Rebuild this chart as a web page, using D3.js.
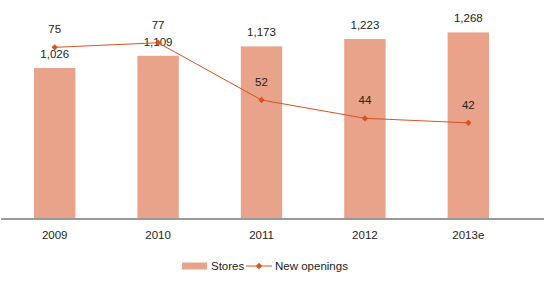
<!DOCTYPE html>
<html>
<head>
<meta charset="utf-8">
<script src="https://cdn.jsdelivr.net/npm/d3@7"></script>
<style>
  body { margin: 0; background: #fff; }
  text { font-family: "Liberation Sans", Arial, sans-serif; fill: #222; }
</style>
</head>
<body>
<svg width="544" height="281"></svg>
<script>
const years = ["2009", "2010", "2011", "2012", "2013e"];
const stores = [1026, 1109, 1173, 1223, 1268];
const openings = [75, 77, 52, 44, 42];

const barColor = "#e8a38a";
const lineColor = "#d9531e";

const svg = d3.select("svg");
const margin = {top: 13, left: 3, right: 24, bottom: 62};
const width = 544 - margin.left - margin.right;
const height = 281 - margin.top - margin.bottom;

const g = svg.append("g").attr("transform", `translate(${margin.left},${margin.top})`);

const x = d3.scaleBand().domain(years).range([0, width]).paddingInner(0.6).paddingOuter(0.3);
const y = d3.scaleLinear().domain([0, 1400]).range([height, 0]);
const y2 = d3.scaleLinear().domain([0, 90]).range([height, 0]);

// bars
g.selectAll("rect.bar")
  .data(stores)
  .enter().append("rect")
    .attr("class", "bar")
    .attr("x", (d, i) => x(years[i]))
    .attr("y", d => y(d))
    .attr("width", x.bandwidth())
    .attr("height", d => height - y(d))
    .attr("fill", barColor);

g.selectAll("text.barlabel")
  .data(stores)
  .enter().append("text")
    .attr("class", "barlabel")
    .attr("x", (d, i) => x(years[i]) + x.bandwidth() / 2)
    .attr("y", d => y(d) - 10)
    .attr("text-anchor", "middle")
    .attr("font-size", 11.5)
    .text(d => d3.format(",")(d));

// axis
const xAxis = g.append("g")
  .attr("transform", `translate(0,${height})`)
  .call(d3.axisBottom(x).tickSize(0).tickPadding(12));
xAxis.select(".domain").remove();
xAxis.selectAll("text").attr("font-size", 11.5).attr("font-family", "Liberation Sans, Arial, sans-serif").attr("fill", "#222");
g.append("line")
  .attr("x1", -2).attr("x2", 544 - margin.left)
  .attr("y1", height).attr("y2", height)
  .attr("stroke", "#999").attr("stroke-width", 2);

// line
const cx = (d, i) => x(years[i]) + x.bandwidth() / 2;
const line = d3.line().x(cx).y(d => y2(d));
g.append("path")
  .datum(openings)
  .attr("d", line)
  .attr("fill", "none")
  .attr("stroke", lineColor)
  .attr("stroke-width", 1);

// square turned 45deg -> even diamond
const diamond = d3.symbol().type(d3.symbolSquare).size(20);
g.selectAll("path.marker")
  .data(openings)
  .enter().append("path")
    .attr("class", "marker")
    .attr("d", diamond)
    .attr("transform", (d, i) => `translate(${cx(d, i)},${y2(d)}) rotate(45)`)
    .attr("fill", lineColor);

g.selectAll("text.linelabel")
  .data(openings)
  .enter().append("text")
    .attr("class", "linelabel")
    .attr("x", cx)
    .attr("y", d => y2(d) - 14)
    .attr("text-anchor", "middle")
    .attr("font-size", 11.5)
    .text(d => d);

// legend
const lg = svg.append("g").attr("transform", "translate(0,266)");
lg.append("rect").attr("x", 182).attr("y", -3.5).attr("width", 25).attr("height", 7).attr("fill", barColor);
lg.append("text").attr("x", 211).attr("y", 4).attr("font-size", 11.5).text("Stores");
lg.append("line").attr("x1", 246).attr("x2", 272).attr("y1", 0).attr("y2", 0)
  .attr("stroke", lineColor).attr("stroke-width", 1);
lg.append("path").attr("d", diamond).attr("transform", "translate(259,0) rotate(45)").attr("fill", lineColor);
lg.append("text").attr("x", 275).attr("y", 4).attr("font-size", 11.5).text("New openings");
</script>
</body>
</html>
